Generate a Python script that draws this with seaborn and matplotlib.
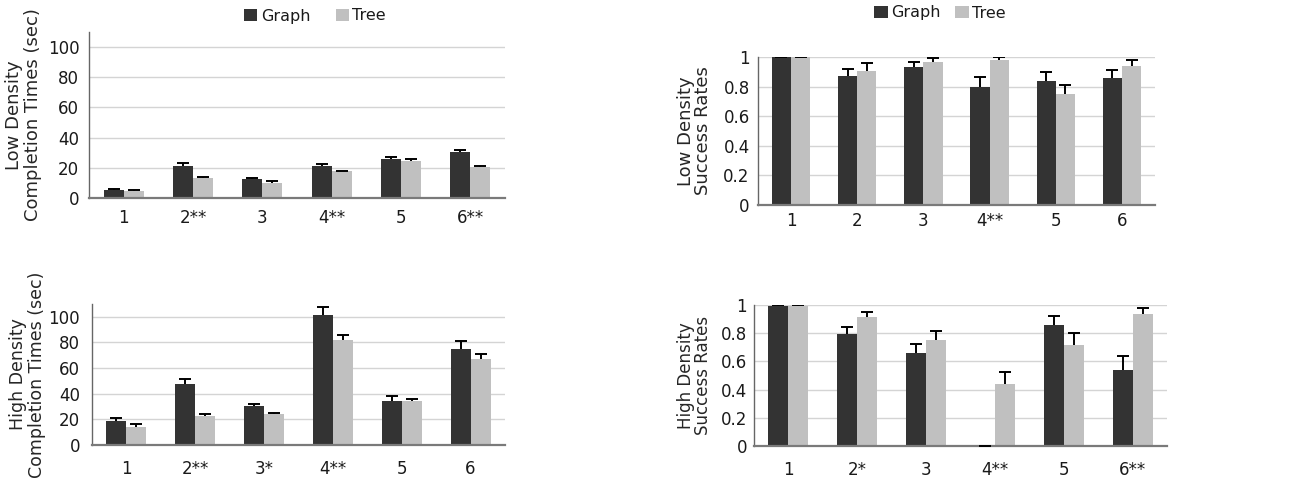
import matplotlib
matplotlib.use('Agg')
import matplotlib.pyplot as plt
import pandas as pd
import seaborn as sns

# ── data ─────────────────────────────────────────────────────────────────
groups = ['Graph', 'Tree']

low_time_tasks = ['1', '2**', '3', '4**', '5', '6**']
low_time_graph = [5.3, 21.0, 12.5, 21.2, 25.8, 30.2]
low_time_graph_err = [0.6, 2.4, 1.0, 1.3, 1.6, 1.3]
low_time_tree = [4.6, 13.1, 10.0, 17.7, 24.3, 20.3]
low_time_tree_err = [1.0, 0.5, 1.3, 0.5, 1.5, 1.1]

low_succ_tasks = ['1', '2', '3', '4**', '5', '6']
low_succ_graph = [1.0, 0.873, 0.934, 0.80, 0.84, 0.858]
low_succ_graph_err = [0.0, 0.048, 0.034, 0.063, 0.058, 0.052]
low_succ_tree = [1.0, 0.907, 0.968, 0.982, 0.75, 0.941]
low_succ_tree_err = [0.0, 0.05, 0.022, 0.02, 0.063, 0.036]

high_time_tasks = ['1', '2**', '3*', '4**', '5', '6']
high_time_graph = [18.8, 47.8, 30.5, 101.8, 34.5, 75.2]
high_time_graph_err = [2.1, 3.9, 1.6, 5.8, 3.6, 5.7]
high_time_tree = [14.1, 22.7, 23.8, 82.2, 34.5, 67.4]
high_time_tree_err = [2.1, 1.1, 0.8, 3.7, 1.0, 3.9]

high_succ_tasks = ['1', '2*', '3', '4**', '5', '6**']
high_succ_graph = [0.993, 0.792, 0.66, 0.0, 0.858, 0.539]
high_succ_graph_err = [0.007, 0.054, 0.066, 0.0, 0.066, 0.097]
high_succ_tree = [0.993, 0.915, 0.752, 0.44, 0.716, 0.936]
high_succ_tree_err = [0.007, 0.033, 0.064, 0.085, 0.085, 0.045]

colors = ['#333333', '#c0c0c0']

sns.set_style('white')
plt.rcParams['font.family'] = ['DejaVu Sans']
plt.rcParams['text.color'] = '#1a1a1a'


def panel(ax, tasks, g, t, ge, te, ylabel, ymax, yticks, ytl, legend,
          lab_fs, lab_pad, lsp, xpad, ypad):
    df = pd.DataFrame({'task': tasks * 2,
                       'ui': ['Graph'] * len(tasks) + ['Tree'] * len(tasks),
                       'val': g + t})
    sns.barplot(data=df, x='task', y='val', hue='ui', hue_order=groups,
                palette=colors, width=0.58, gap=0, errorbar=None, saturation=1,
                linewidth=0, legend=legend, ax=ax)
    # one-sided (upper) error bars, cap on top only
    for cont, errs in zip(ax.containers, [ge, te]):
        xs = [p.get_x() + p.get_width() / 2 for p in cont.patches]
        ys = [p.get_height() for p in cont.patches]
        eb = ax.errorbar(xs, ys, yerr=[[0] * len(errs), errs], fmt='none',
                         ecolor='black', elinewidth=1.4, capsize=4.3,
                         capthick=1.4, zorder=3)
        eb[1][0].set_visible(False)
    ax.set_xlim(-0.5, len(tasks) - 0.5)
    ax.set_ylim(0, ymax)
    ax.set_yticks(yticks)
    ax.set_yticklabels(ytl)
    ax.set_xticks(range(len(tasks)))
    ax.set_xticklabels(tasks)
    ax.set_xticks([i - 0.5 for i in range(len(tasks) + 1)], minor=True)
    ax.tick_params(axis='x', which='major', length=0, pad=xpad, labelsize=12,
                   labelcolor='#1a1a1a')
    ax.tick_params(axis='x', which='minor', length=5, width=1, color='#555555',
                   direction='out')
    ax.tick_params(axis='y', length=0, pad=ypad, labelsize=12,
                   labelcolor='#1a1a1a')
    ax.yaxis.grid(True, color='#d4d4d4', linewidth=1)
    ax.set_axisbelow(True)
    for s in ['top', 'right']:
        ax.spines[s].set_visible(False)
    ax.spines['left'].set_color('#666666')
    ax.spines['left'].set_linewidth(1)
    ax.spines['bottom'].set_color('#7a7a7a')
    ax.spines['bottom'].set_linewidth(1.6)
    ax.set_xlabel('')
    ax.set_ylabel(ylabel, fontsize=lab_fs, labelpad=lab_pad, linespacing=lsp)


fig = plt.figure(figsize=(12.99, 4.92), dpi=100)
W, H = 1299, 492


def add_ax(l, r, b, t):
    return fig.add_axes([l / W, 1 - b / H, (r - l) / W, (b - t) / H])


ax1 = add_ax(89, 505, 198, 32)
ax2 = add_ax(758, 1155, 205, 57)
ax3 = add_ax(92, 505, 445, 304)
ax4 = add_ax(754, 1167, 446, 305)

t_ticks = [0, 20, 40, 60, 80, 100]
s_ticks = [0, 0.2, 0.4, 0.6, 0.8, 1.0]
s_lab = ['0', '0.2', '0.4', '0.6', '0.8', '1']

panel(ax1, low_time_tasks, low_time_graph, low_time_tree, low_time_graph_err,
      low_time_tree_err, 'Low Density\nCompletion Times (sec)', 110, t_ticks,
      [str(v) for v in t_ticks], True, 13, 4, 1.05, 8, 7)
panel(ax2, low_succ_tasks, low_succ_graph, low_succ_tree, low_succ_graph_err,
      low_succ_tree_err, 'Low Density\nSuccess Rates', 1.0, s_ticks, s_lab,
      True, 13, 8, 0.95, 5, 6)
panel(ax3, high_time_tasks, high_time_graph, high_time_tree, high_time_graph_err,
      high_time_tree_err, 'High Density\nCompletion Times (sec)', 110, t_ticks,
      [str(v) for v in t_ticks], False, 12.5, 2, 1.05, 11, 8.5)
panel(ax4, high_succ_tasks, high_succ_graph, high_succ_tree, high_succ_graph_err,
      high_succ_tree_err, 'High Density\nSuccess Rates', 1.0, s_ticks, s_lab,
      False, 12, 6, 0.95, 11, 5)

sns.move_legend(ax1, 'center', bbox_to_anchor=(315 / W, 1 - 16 / H),
                bbox_transform=fig.transFigure, ncol=2, frameon=False, title=None,
                fontsize=11.5, handlelength=0.85, handleheight=0.85,
                handletextpad=0.2, columnspacing=1.6)
sns.move_legend(ax2, 'center', bbox_to_anchor=(940 / W, 1 - 13 / H),
                bbox_transform=fig.transFigure, ncol=2, frameon=False, title=None,
                fontsize=11.5, handlelength=0.85, handleheight=0.85,
                handletextpad=0.2, columnspacing=0.9)

fig.savefig('out.png', dpi=100)
